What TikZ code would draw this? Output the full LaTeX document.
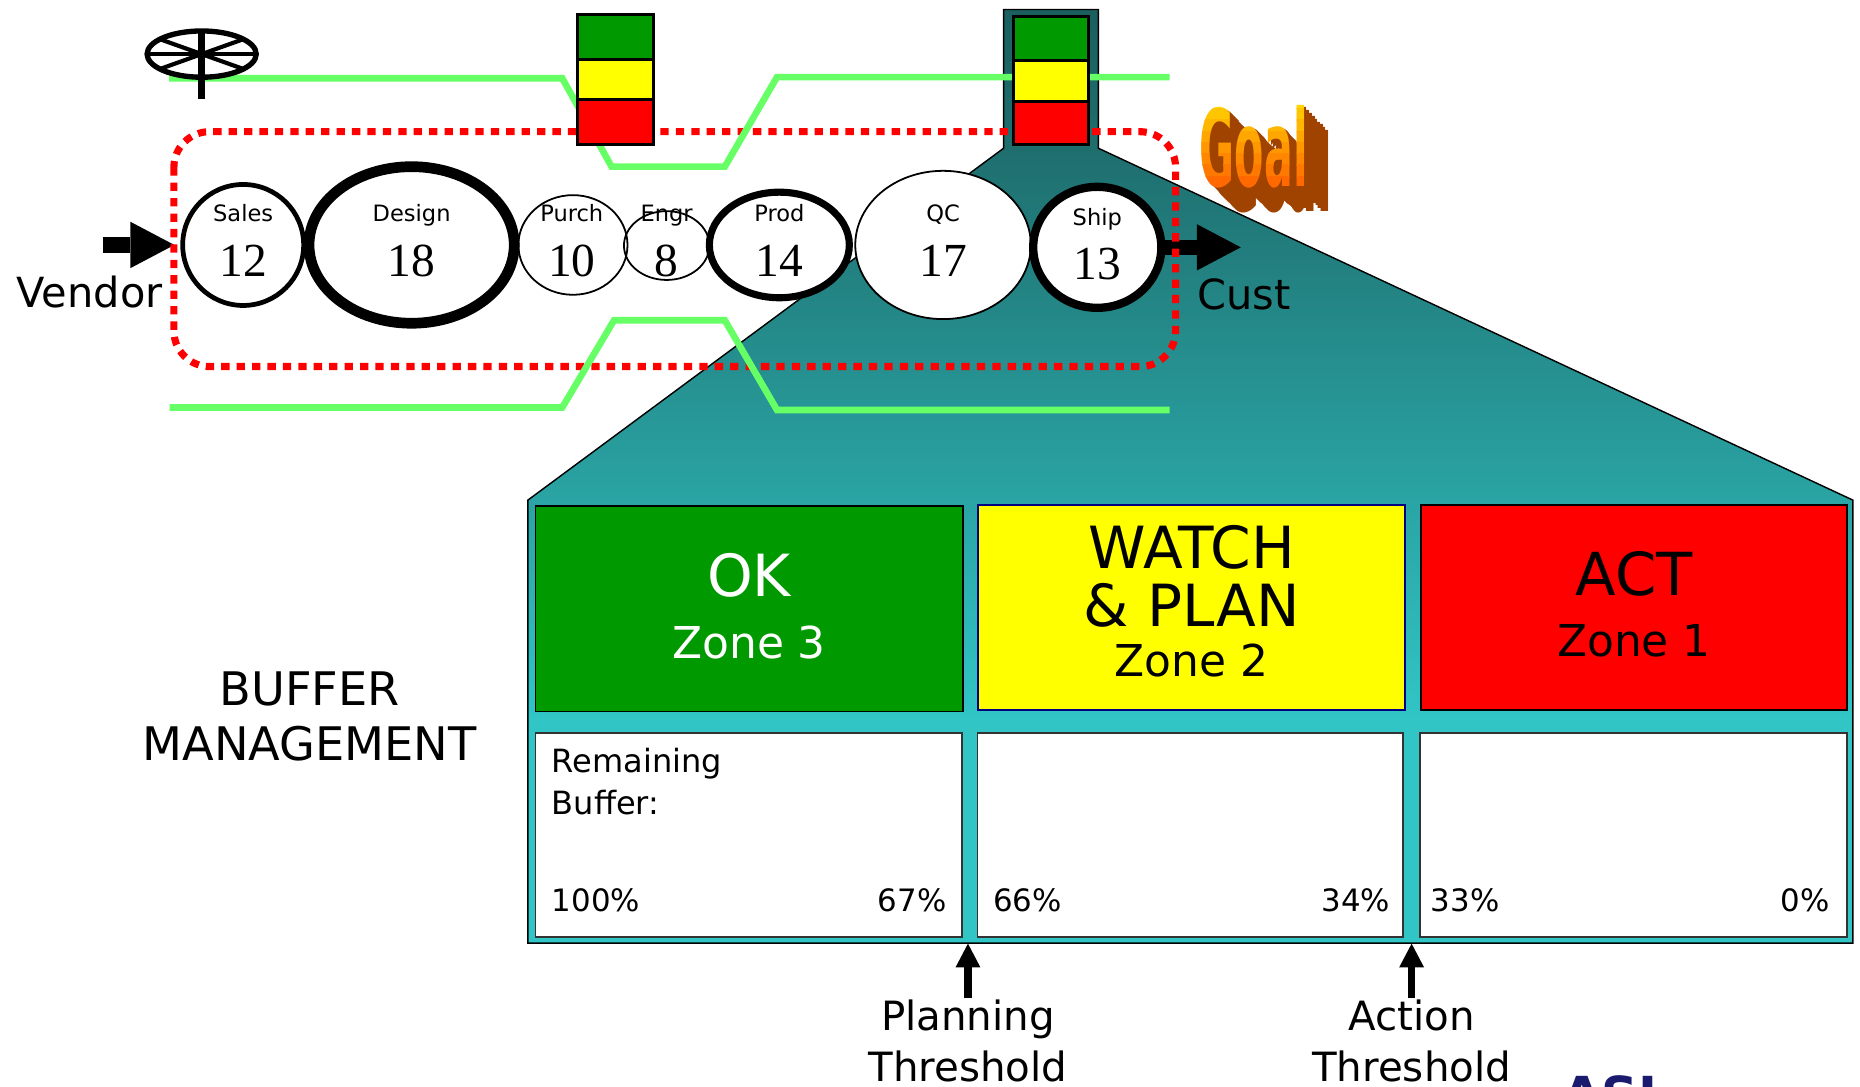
\documentclass[tikz,border=0pt]{standalone}
\usepackage{fontspec}
\usetikzlibrary{shapes.geometric,arrows.meta}
\newfontfamily\sansface{DejaVu Sans}
\newfontfamily\serifnum{Liberation Serif}
\newcommand\fsz[1]{\fontsize{#1}{#1}\selectfont}

\definecolor{zonegreen}{HTML}{009900}
\definecolor{zoneyellow}{HTML}{FFFF00}
\definecolor{zonered}{HTML}{FF0000}
\definecolor{ropegreen}{HTML}{66FF66}
\definecolor{panel0}{HTML}{1B5F5F}
\definecolor{panela}{HTML}{1F6E6E}
\definecolor{panelb}{HTML}{2AA4A4}
\definecolor{panelc}{HTML}{31C5C5}
\definecolor{goaltop}{HTML}{FFD400}
\definecolor{goalbot}{HTML}{FF5500}
\definecolor{goalside}{HTML}{A04200}
\definecolor{logoblue}{HTML}{1A1A6E}
\definecolor{boxedge}{HTML}{333333}
\definecolor{navyedge}{HTML}{000080}

% vertical colour ramp of the teal magnifier panel (0bp = bottom)
\pgfdeclareverticalshading{tealpanel}{100bp}{color(0bp)=(panelc); color(37bp)=(panelc); color(48.7bp)=(panelb); color(67.6bp)=(panela); color(75bp)=(panel0); color(100bp)=(panel0)}

\begin{document}
\begin{tikzpicture}[x=1pt,y=-1pt,
  stage/.style={ellipse, draw=black, fill=white, inner sep=0pt},
  lbl/.style={inner sep=0pt, anchor=base, font=\sansface\fsz{19}},
  num/.style={inner sep=0pt, anchor=base, font=\serifnum\fsz{40}},
  txt/.style={inner sep=0pt, anchor=base},
  zonebox/.style={rectangle, inner sep=0pt, minimum width=360pt, minimum height=173pt, line width=1.5pt},
  membox/.style={rectangle, inner sep=0pt, minimum width=359.5pt, minimum height=172pt, fill=white, draw=boxedge, line width=1.5pt},
  blockarrow/.style={line width=13pt, -{Triangle[length=37pt,width=39pt,line width=0pt]}},
  thresharrow/.style={line width=6pt, -{Triangle[length=20pt,width=21pt,line width=0pt]}, shorten <=1pt},
  rope/.style={draw=ropegreen, line width=5.6pt, line join=miter},
  indic/.style={draw=black, line width=2.5pt},
  goalglyph/.style={inner sep=0pt, font=\sansface\bfseries\fsz{90}},
]
\useasboundingbox (0,0) rectangle (1568,916);
\clip (0,0) rectangle (1568,916);
\fill[white] (0,0) rectangle (1568,916);

% teal magnifier panel
\shadedraw[shading=tealpanel, draw=black, line width=1.2pt, line join=miter]
  (846,8) -- (926,8) -- (926,125) -- (1562,421.6) -- (1562,795)
  -- (445,795) -- (445,421.6) -- (846,125) -- cycle;

% zone boxes
\node[zonebox, fill=zonegreen, draw=black] (okbox) at (631.5,513.3) {};
\node[zonebox, fill=zoneyellow, draw=navyedge, minimum height=172.6pt] (watchbox) at (1004.6,512.3) {};
\node[zonebox, fill=zonered, draw=black, minimum width=359pt, minimum height=172.6pt] (actbox) at (1377.5,512.3) {};
\node[membox] (okmem) at (631.2,703.7) {};
\node[membox, minimum width=359pt] (watchmem) at (1003.5,703.7) {};
\node[membox, minimum width=360pt] (actmem) at (1377,703.7) {};

% process stages
\node[stage, line width=4pt, minimum width=102pt, minimum height=102pt] (sales) at (205,206.5) {};
\node[stage, fill=none, line width=1.5pt, minimum width=92pt, minimum height=84pt] (purch) at (483,206.5) {};
\node[stage, fill=none, line width=1.5pt, minimum width=72pt, minimum height=58pt] (engr) at (562,207) {};
\node[stage, line width=9pt, minimum width=173pt, minimum height=132pt] (design) at (347,206.5) {};
\node[stage, line width=6pt, minimum width=118pt, minimum height=89pt] (prod) at (657,206.5) {};
\node[stage, line width=1.5pt, minimum width=148pt, minimum height=125pt] (qc) at (795,206.5) {};
\node[stage, line width=7pt, minimum width=108pt, minimum height=102pt] (ship) at (925,208.5) {};

% material in and out
\coordinate (vtail) at (87,206.5);
\coordinate (custtip) at (1046,208.5);
\draw[blockarrow, shorten >=5pt] (vtail) -- (sales.west);
\draw[blockarrow] (ship.east) -- (custtip);

% dotted system boundary
\draw[red, line width=6pt, dash pattern=on 7pt off 6pt, rounded corners=30pt] (146.6,111) rectangle (991,309);

% rope lines
\draw[rope] (142.6,66) -- (474,66) -- (515.6,140.5) -- (611,140.5) -- (655,65) -- (986,65);
\draw[rope] (143,343.5) -- (474,343.5) -- (517.6,270) -- (611,270) -- (655,345.6) -- (986,345.6);

% buffer indicators
\draw[indic, fill=zonegreen]  (486.5,12.6) rectangle (550.5,50);
\draw[indic, fill=zoneyellow] (486.5,50) rectangle (550.5,84);
\draw[indic, fill=zonered]    (486.5,84) rectangle (550.5,122);
\draw[indic, fill=zonegreen]  (854,14) rectangle (918,50.6);
\draw[indic, fill=zoneyellow] (854,50.6) rectangle (918,85.7);
\draw[indic, fill=zonered]    (854,85.7) rectangle (918,122);

% drum wheel
\draw[line width=4.5pt] (170,45.6) ellipse [x radius=46, y radius=19.5];
\draw[line width=4pt] (124,45.6) -- (216,45.6);
\draw[line width=3.5pt] (135,33.1) -- (205,58.1);
\draw[line width=3.5pt] (135,58.1) -- (205,33.1);
\draw[line width=6pt] (170,26) -- (170,83.5);

% stage labels
\node[lbl] (salesname) at (205,187) {Sales};
\node[num] (salesnum) at (205,233.3) {12};
\node[lbl] (designname) at (347,187) {Design};
\node[num] (designnum) at (347,233.3) {18};
\node[lbl] (purchname) at (482,187) {Purch};
\node[num] (purchnum) at (482,233.3) {10};
\node[lbl] (engrname) at (562,187) {Engr};
\node[num] (engrnum) at (562,233.3) {8};
\node[lbl] (prodname) at (657,187) {Prod};
\node[num] (prodnum) at (657,233.3) {14};
\node[lbl] (qcname) at (795,187) {QC};
\node[num] (qcnum) at (795,233.3) {17};
\node[lbl] (shipname) at (925,189.7) {Ship};
\node[num] (shipnum) at (925,236) {13};

\node[txt, font=\sansface\fsz{35}] (vendor) at (75.5,259) {Vendor};
\node[txt, font=\sansface\fsz{35}] (cust) at (1048.5,261) {Cust};

% zone captions
\node[txt, text=white, font=\sansface\fsz{49}] (oktitle) at (631.5,502.5) {OK};
\node[txt, text=white, font=\sansface\fsz{37}] (okzone) at (631.5,555) {Zone 3};
\node[txt, font=\sansface\fsz{49}] (watchtitle) at (1004.6,479) {WATCH};
\node[txt, font=\sansface\fsz{49}] (plantitle) at (1004.6,528.5) {\& PLAN};
\node[txt, font=\sansface\fsz{37}] (watchzone) at (1004.6,570.5) {Zone 2};
\node[txt, font=\sansface\fsz{50}] (acttitle) at (1377.5,501.6) {ACT};
\node[txt, font=\sansface\fsz{37}] (actzone) at (1377.5,553.6) {Zone 1};

% remaining buffer scale
\node[txt, anchor=base west, font=\sansface\fsz{27}] (remain) at (465,651.6) {Remaining};
\node[txt, anchor=base west, font=\sansface\fsz{27}] (bufword) at (465,687) {Buffer:};
\node[txt, anchor=base west, font=\sansface\fsz{26}] (p100) at (465,768.6) {100\%};
\node[txt, anchor=base east, font=\sansface\fsz{26}] (p67) at (798,768.6) {67\%};
\node[txt, anchor=base west, font=\sansface\fsz{26}] (p66) at (837,768.6) {66\%};
\node[txt, anchor=base east, font=\sansface\fsz{26}] (p34) at (1172,768.6) {34\%};
\node[txt, anchor=base west, font=\sansface\fsz{26}] (p33) at (1206,768.6) {33\%};
\node[txt, anchor=base east, font=\sansface\fsz{26}] (p0) at (1542.5,768.6) {0\%};

\node[txt, font=\sansface\fsz{39}] (bmtop) at (261,594.4) {BUFFER};
\node[txt, font=\sansface\fsz{39}] (bmbot) at (261,640.7) {MANAGEMENT};

% thresholds
\node[txt, font=\sansface\fsz{34}] (planword) at (816,868.5) {Planning};
\node[txt, font=\sansface\fsz{34}] (planthr) at (816,912) {Threshold};
\node[txt, font=\sansface\fsz{34}] (actword) at (1190,868.5) {Action};
\node[txt, font=\sansface\fsz{34}] (actthr) at (1190,912) {Threshold};
\coordinate (plantip) at (816,795.5);
\coordinate (acttip) at (1190,795.5);
\draw[thresharrow] (planword.north) -- (plantip);
\draw[thresharrow] (actword.north) -- (acttip);

% Goal lettering: extruded side, then the face in horizontal colour bands
\foreach \k in {9,8,...,1} {
  \node[goalglyph, text=goalside] (goalside\k) at ({1057+2.3*\k},{123.3+2.4*\k}) {\scalebox{0.4}[1]{Goal}};
}
\foreach \i in {0,...,8} {
  \pgfmathtruncatemacro{\mix}{100-12*\i}
  \begin{scope}
    \clip (990,{82+9.5*\i}) rectangle (1130,{91.8+9.5*\i});
    \node[goalglyph, text=goaltop!\mix!goalbot] (goalface\i) at (1057,123.3) {\scalebox{0.4}[1]{Goal}};
  \end{scope}
}

% logo, cut by the page edge
\node[txt, anchor=base west, text=logoblue, font=\sansface\bfseries\fsz{43}] (logo) at (1317,939) {ASI};
\end{tikzpicture}
\end{document}
